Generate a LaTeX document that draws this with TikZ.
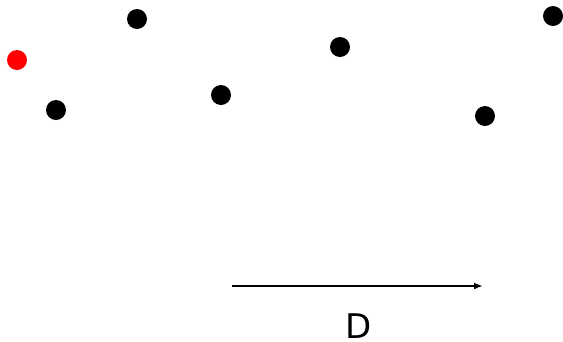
\documentclass[tikz,border=0pt]{standalone}
\usepackage{fontspec}
\setmainfont{DejaVu Sans}
\usetikzlibrary{arrows.meta}
\begin{document}
\begin{tikzpicture}[x=1pt,y=-1pt,
  pt/.style={circle,fill=black,inner sep=0pt,minimum size=20pt},
  redpt/.style={pt,fill=red},
  vec/.style={line width=2pt,-{Latex[length=9pt,width=7pt]}}]
\useasboundingbox (0,0) rectangle (563,341);
\node[redpt] (r) at (17,60) {};
\node[pt] (a) at (137,19) {};
\node[pt] (b) at (56,110) {};
\node[pt] (c) at (221,95) {};
\node[pt] (d) at (340,47) {};
\node[pt] (e) at (553,16) {};
\node[pt] (f) at (485,116) {};
\coordinate (s) at (232,286);
\coordinate (t) at (483,286);
\draw[vec] (s) -- (t);
\node[font=\fontsize{34}{38}\selectfont,anchor=base,inner sep=0pt,text depth=0pt] (lab) at (359,338) {D};
\end{tikzpicture}
\end{document}
